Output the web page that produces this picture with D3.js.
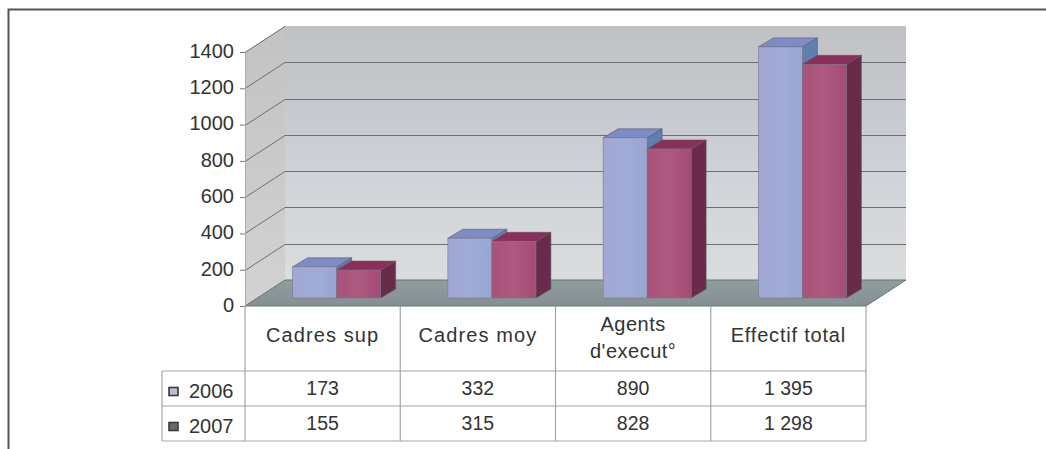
<!DOCTYPE html>
<html>
<head>
<meta charset="utf-8">
<script src="https://cdnjs.cloudflare.com/ajax/libs/d3/7.8.5/d3.min.js"></script>
<style>
  html, body { margin: 0; padding: 0; background: #fff; }
  svg { display: block; }
  text { font-family: "Liberation Sans", Arial, sans-serif; fill: #333; }
</style>
</head>
<body>
<div id="chart"></div>
<script>
var categories = ["Cadres sup", "Cadres moy", "Agents d'execut°", "Effectif total"];
var years = ["2006", "2007"];
var values2006 = [173, 332, 890, 1395];
var values2007 = [155, 315, 828, 1298];
var labels2006 = ["173", "332", "890", "1 395"];
var labels2007 = ["155", "315", "828", "1 298"];
var yTicks = [0, 200, 400, 600, 800, 1000, 1200, 1400];

var width = 1046, height = 449;

var svg = d3.select("#chart").append("svg")
    .attr("width", width)
    .attr("height", height);

// page frame, top and left only
svg.append("path")
    .attr("d", "M1046,9.5H8.5V449")
    .attr("fill", "none")
    .attr("stroke", "#555")
    .attr("stroke-width", 2);

// gradients
var defs = svg.append("defs");
function gradient(id, stops, horizontal) {
    var g = defs.append("linearGradient").attr("id", id)
        .attr("x1", 0).attr("y1", 0)
        .attr("x2", horizontal ? 1 : 0).attr("y2", horizontal ? 0 : 1);
    stops.forEach(function (s, i) {
        g.append("stop").attr("offset", i / (stops.length - 1)).attr("stop-color", s);
    });
}
gradient("wall", ["#c0c1c5", "#c6c9ce", "#d2d5d9", "#dadcdd"]);
gradient("side", ["#c4c2c2", "#d2d2d3"]);
gradient("floor", ["#8f9ea0", "#858f93"], false);
gradient("blueFront", ["#a2a6d4", "#a0acd8", "#9aa6d2"], true);
gradient("redFront", ["#a9517a", "#ad5a80", "#a54a75"], true);

// scales
var x = d3.scaleBand().domain(categories).range([245, 866]);
var y = d3.scaleLinear().domain([0, 1400]).range([306, 52]);
// bars stand further back, so they get a slightly shorter scale
var yBar = d3.scaleLinear().domain([0, 1400]).range([298, 46]);
var barSpan = 88;
var x1 = d3.scaleBand().domain(years).range([0, barSpan]);

// 3d offsets
var depth = {x: 40, y: -26};     // front plane to back wall
var barOffX = 14;                // front plane to bar front
var barDepth = {x: 15, y: -9};   // bar front to bar back

var x0 = x.range()[0], x9 = x.range()[1];
var yBase = y(0), yTop = y(1400);

function poly(pts) {
    return pts.map(function (p) { return p.join(","); }).join(" ");
}

// walls and floor
svg.append("polygon")
    .attr("points", poly([[x0 + depth.x, yTop + depth.y], [x9 + depth.x, yTop + depth.y],
        [x9 + depth.x, yBase + depth.y], [x0 + depth.x, yBase + depth.y]]))
    .attr("fill", "url(#wall)");
svg.append("polygon")
    .attr("points", poly([[x0, yTop], [x0 + depth.x, yTop + depth.y],
        [x0 + depth.x, yBase + depth.y], [x0, yBase]]))
    .attr("fill", "url(#side)");

// gridlines on side wall and back wall
var grid = svg.append("g").attr("fill", "none").attr("stroke", "#6c6f72").attr("stroke-width", 1);
yTicks.forEach(function (t) {
    var yy = Math.round(y(t)) + 0.5;
    // top edge of the back wall carries no line
    var pts = t === 1400 ? [[x0, yy], [x0 + depth.x, yy + depth.y]]
        : [[x0, yy], [x0 + depth.x, yy + depth.y], [x9 + depth.x, yy + depth.y]];
    grid.append("polyline").attr("points", poly(pts));
});

svg.append("polygon")
    .attr("points", poly([[x0, yBase], [x0 + depth.x, yBase + depth.y],
        [x9 + depth.x, yBase + depth.y], [x9, yBase]]))
    .attr("fill", "url(#floor)")
    .attr("stroke", "#6b7478")
    .attr("stroke-width", 1);

// y axis
var yAxis = svg.append("g")
    .attr("transform", "translate(" + x0 + ",0)")
    .call(d3.axisLeft(y).tickValues(yTicks).tickFormat(d3.format("d")).tickSize(5).tickPadding(6).tickSizeOuter(0));
yAxis.selectAll("text").attr("font-size", 20).attr("dy", "0.27em").style("fill", "#333");
yAxis.selectAll("line").attr("stroke", "#777");
yAxis.select(".domain").attr("stroke", "#a8aab0");

// bars, each series in its own group
function drawBars(values, year, front, top, side) {
    var g = svg.append("g").attr("class", "bars-" + year);
    categories.forEach(function (c, i) {
        var left = x(c) + (x.bandwidth() - barSpan) / 2 + barOffX + x1(year);
        var w = x1.bandwidth();
        var yb = yBar(0);
        var yt = yBar(values[i]);
        var dx = barDepth.x, dy = barDepth.y;
        g.append("polygon")
            .attr("points", poly([[left + w, yt], [left + w + dx, yt + dy], [left + w + dx, yb + dy], [left + w, yb]]))
            .attr("fill", side).attr("stroke", "#5a5866").attr("stroke-width", 0.6);
        g.append("polygon")
            .attr("points", poly([[left, yt], [left + dx, yt + dy], [left + w + dx, yt + dy], [left + w, yt]]))
            .attr("fill", top).attr("stroke", "#5a5866").attr("stroke-width", 0.6);
        g.append("rect")
            .attr("x", left).attr("y", yt).attr("width", w).attr("height", yb - yt)
            .attr("fill", front).attr("stroke", "#77778c").attr("stroke-width", 0.6);
    });
}
drawBars(values2006, "2006", "url(#blueFront)", "#7e8cc6", "#5f7fb0");
drawBars(values2007, "2007", "url(#redFront)", "#8c2f58", "#6a2b4a");

// data table
var rowY = [306, 371, 406, 441];
var legendLeft = 162;
var table = svg.append("g").attr("stroke", "#a2a5aa").attr("stroke-width", 1.2).attr("fill", "none");
var colEdges = categories.map(function (c) { return x(c); }).concat([x9]);
colEdges.forEach(function (cx) {
    table.append("line").attr("x1", cx).attr("x2", cx).attr("y1", rowY[0]).attr("y2", rowY[3]);
});
table.append("line").attr("x1", legendLeft).attr("x2", legendLeft).attr("y1", rowY[1]).attr("y2", rowY[3]);
rowY.slice(1).forEach(function (ry) {
    table.append("line").attr("x1", legendLeft).attr("x2", x9).attr("y1", ry).attr("y2", ry);
});

// category headers
var headerLines = [["Cadres sup"], ["Cadres moy"], ["Agents", "d'execut°"], ["Effectif total"]];
var headerSpacing = [1.1, 1.1, 0.5, 0.8];
categories.forEach(function (c, i) {
    var t = svg.append("text")
        .attr("text-anchor", "middle")
        .attr("font-size", 20)
        .style("letter-spacing", headerSpacing[i] + "px");
    var lines = headerLines[i];
    lines.forEach(function (line, k) {
        t.append("tspan")
            .attr("x", x(c) + x.bandwidth() / 2)
            .attr("y", lines.length === 1 ? 342 : 331 + k * 27)
            .text(line);
    });
});

// value rows and legend keys
var rowLabels = [labels2006, labels2007];
var keyFill = ["#bcbdd2", "#6e6670"];
years.forEach(function (yr, r) {
    var mid = (rowY[r + 1] + rowY[r + 2]) / 2;
    svg.append("rect")
        .attr("x", 169).attr("y", mid - 1).attr("width", 9).attr("height", 8)
        .attr("fill", keyFill[r]).attr("stroke", "#3a3a3a").attr("stroke-width", 1.6);
    svg.append("text")
        .attr("x", 189).attr("y", mid + 9.5)
        .attr("font-size", 20)
        .text(yr);
    rowLabels[r].forEach(function (lab, i) {
        svg.append("text")
            .attr("x", x(categories[i]) + x.bandwidth() / 2)
            .attr("y", mid + 6)
            .attr("text-anchor", "middle")
            .attr("font-size", 19.5)
            .text(lab);
    });
});
</script>
</body>
</html>
